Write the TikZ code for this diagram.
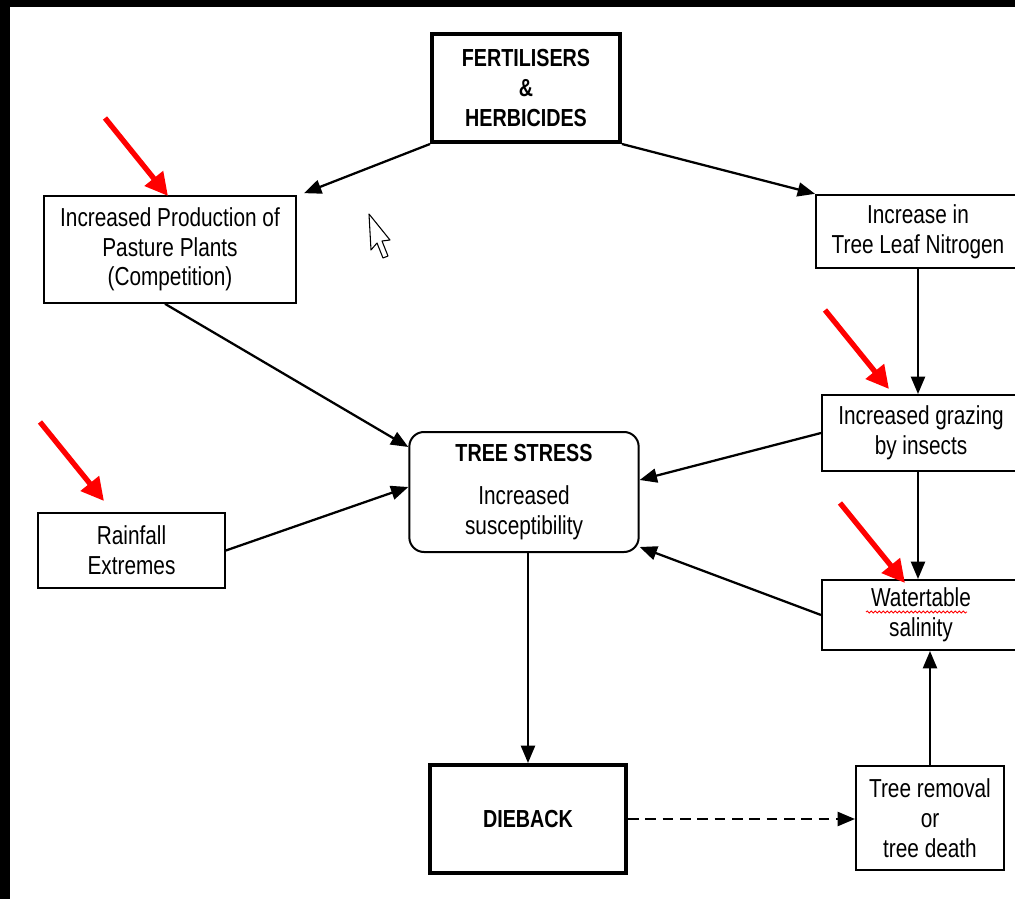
\documentclass[tikz,border=0pt]{standalone}
\usepackage{fontspec}
\setmainfont[FakeStretch=0.8]{Liberation Sans}
\usetikzlibrary{arrows.meta,calc,decorations.pathmorphing}
\begin{document}
\begin{tikzpicture}[x=0.75pt,y=-0.75pt,
  box/.style={draw, line width=1.5pt, inner sep=0pt, align=center,
    font=\fontsize{19.5}{22.3}\selectfont},
  heavybox/.style={draw, line width=3pt, inner sep=0pt, align=center,
    font=\fontsize{18.5}{22.5}\selectfont\bfseries},
  arr/.style={-{Triangle[length=13pt,width=10.5pt]}, line width=1.7pt},
  redarr/.style={red, line width=4pt, -{Triangle[length=17pt,width=17pt]}}]
\useasboundingbox (0,0) rectangle (1015,899);
\clip (0,0) rectangle (1015,899);
\fill[black] (0,0) rectangle (1015,899);
\fill[white] (10,7) rectangle (1015,899);

\node[heavybox, minimum width=141pt, minimum height=81pt] (fert) at (526,88)
  {FERTILISERS\\\&\\HERBICIDES};
\node[box, minimum width=189pt, minimum height=80pt] (prod) at (170,249.5)
  {Increased Production of\\Pasture Plants\\(Competition)};
\node[box, minimum width=153pt, minimum height=55pt] (nitro) at (918,231.5)
  {Increase in\\Tree Leaf Nitrogen};
\node[box, minimum width=148.5pt, minimum height=57pt] (graz) at (921,433)
  {Increased grazing\\by insects};
\node[box, rounded corners=11pt, minimum width=172pt, minimum height=90pt] (stress) at (524,492)
  {{\fontsize{18.5}{22.5}\selectfont\bfseries TREE STRESS}\\[10pt]Increased\\susceptibility};
\node[box, minimum width=140pt, minimum height=56pt] (rain) at (131.5,550.5)
  {Rainfall\\Extremes};
\node[box, minimum width=148.5pt, minimum height=52.5pt] (water) at (921,615)
  {Watertable\\salinity};
\node[heavybox, minimum width=147pt, minimum height=81pt] (dieback) at (528,819)
  {DIEBACK};
\node[box, minimum width=111pt, minimum height=78pt] (rem) at (930,818)
  {Tree removal\\or\\tree death};

\draw[arr] (fert.south west) -- ($(prod.north east)+(7,-2)$);
\draw[arr] (fert.south east) -- (nitro.north west);
\draw[arr] ($(prod.south)+(-5,0)$) -- ($(stress.west)+(0,-45)$);
\draw[arr] (rain.east) -- ($(stress.west)+(0,-5)$);
\draw[arr] (nitro.south) -- (nitro.south |- graz.north);
\draw[arr] (graz.west) -- ($(stress.east)+(0,-12)$);
\draw[arr] (nitro.south |- graz.south) -- (nitro.south |- water.north);
\draw[arr] (water.west) -- ($(stress.south east)+(0,-6)$);
\draw[arr] (dieback.north |- stress.south) -- (dieback.north);
\draw[arr, dashed, dash pattern=on 8pt off 5pt] (dieback.east) -- (dieback.east -| rem.west);
\draw[arr] (rem.north) -- (rem.north |- water.south);

\draw[red, line width=0.6pt, decorate, decoration={snake, amplitude=0.8pt, segment length=3pt}]
  (866,612) -- (967,612);

\draw[redarr] (105,118) -- (168,196);
\draw[redarr] (40,422) -- (104,501);
\draw[redarr] (825,310) -- (889,389);
\draw[redarr] (840,503) -- (905,583);

\draw[fill=white, line width=0.8pt, line join=round]
  (369,214) -- (371,250) -- (377,243) -- (383,258) -- (388,256) -- (382,241) -- (390,240) -- cycle;
\end{tikzpicture}
\end{document}
